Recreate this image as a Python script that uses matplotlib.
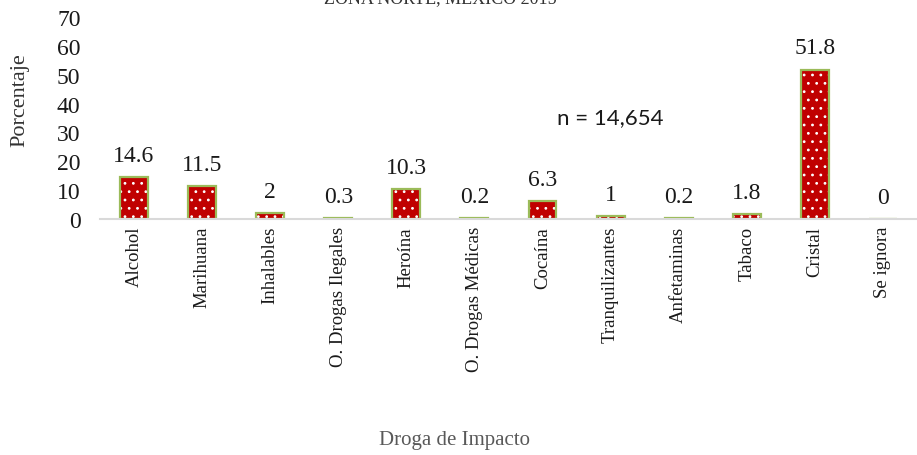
import matplotlib
matplotlib.use("Agg")
import numpy as np
import matplotlib.pyplot as plt

# ==========================================================
# Data
# ==========================================================
DROGAS = ["Alcohol", "Marihuana", "Inhalables", "O. Drogas Ilegales", "Heroína",
          "O. Drogas Médicas", "Cocaína", "Tranquilizantes", "Anfetaminas",
          "Tabaco", "Cristal", "Se ignora"]
PORCENTAJE = [14.6, 11.5, 2, 0.3, 10.3, 0.2, 6.3, 1, 0.2, 1.8, 51.8, 0]
ETIQUETAS = ["14.6", "11.5", "2", "0.3", "10.3", "0.2", "6.3", "1", "0.2", "1.8", "51.8", "0"]
YTICKS = [0, 10, 20, 30, 40, 50, 60, 70]

TITULO = "ZONA NORTE, MÉXICO 2015"
N_TEXT = "n = 14,654"

RED = "#C00000"
GREEN = "#9BBB59"

plt.rcParams["font.family"] = ["Liberation Serif", "DejaVu Serif"]
plt.rcParams["hatch.linewidth"] = 0.8

fig = plt.figure(figsize=(9.17, 4.56), dpi=100)
ax = fig.add_axes([0.109, 0.5175, 0.891, 0.443])

x = np.arange(len(DROGAS))
width = 0.41

# dotted fill, then green outline on top
ax.bar(x, PORCENTAJE, width, color=RED, edgecolor="white", hatch="..", linewidth=0)
ax.bar(x, PORCENTAJE, width, fill=False, edgecolor=GREEN, linewidth=1.6)

for xi, v, lab in zip(x, PORCENTAJE, ETIQUETAS):
    ax.annotate(lab, (xi, v), xytext=(0, 8), textcoords="offset points",
                ha="center", va="bottom", fontsize=17, color="#1a1a1a")

ax.text(7.0, 35.3, N_TEXT, ha="center", va="center", fontsize=16,
        family=["Lato", "DejaVu Sans"], color="#1a1a1a")

ax.set_xlim(-0.5, len(DROGAS) - 0.5)
ax.set_ylim(0, 70)
ax.set_yticks(YTICKS)
ax.set_xticks(x)
ax.set_xticklabels(DROGAS, rotation=90, fontsize=13.5, color="#1a1a1a")
ax.tick_params(axis="both", length=0)
ax.tick_params(axis="x", pad=5)
ax.tick_params(axis="y", pad=14, labelsize=17, labelcolor="#1a1a1a")

for s in ["top", "right", "left"]:
    ax.spines[s].set_visible(False)
ax.spines["bottom"].set_color("#D9D9D9")
ax.spines["bottom"].set_linewidth(1.5)

fig.text(0.022, 0.78, "Porcentaje", rotation=90, ha="center", va="center",
         fontsize=16, color="#333333")
fig.text(0.496, 0.035, "Droga de Impacto", ha="center", va="center",
         fontsize=15, color="#595959")
fig.text(0.48, 1.003, TITULO, ha="center", va="center", fontsize=13, color="#333333")

fig.savefig("out.png", dpi=100)
